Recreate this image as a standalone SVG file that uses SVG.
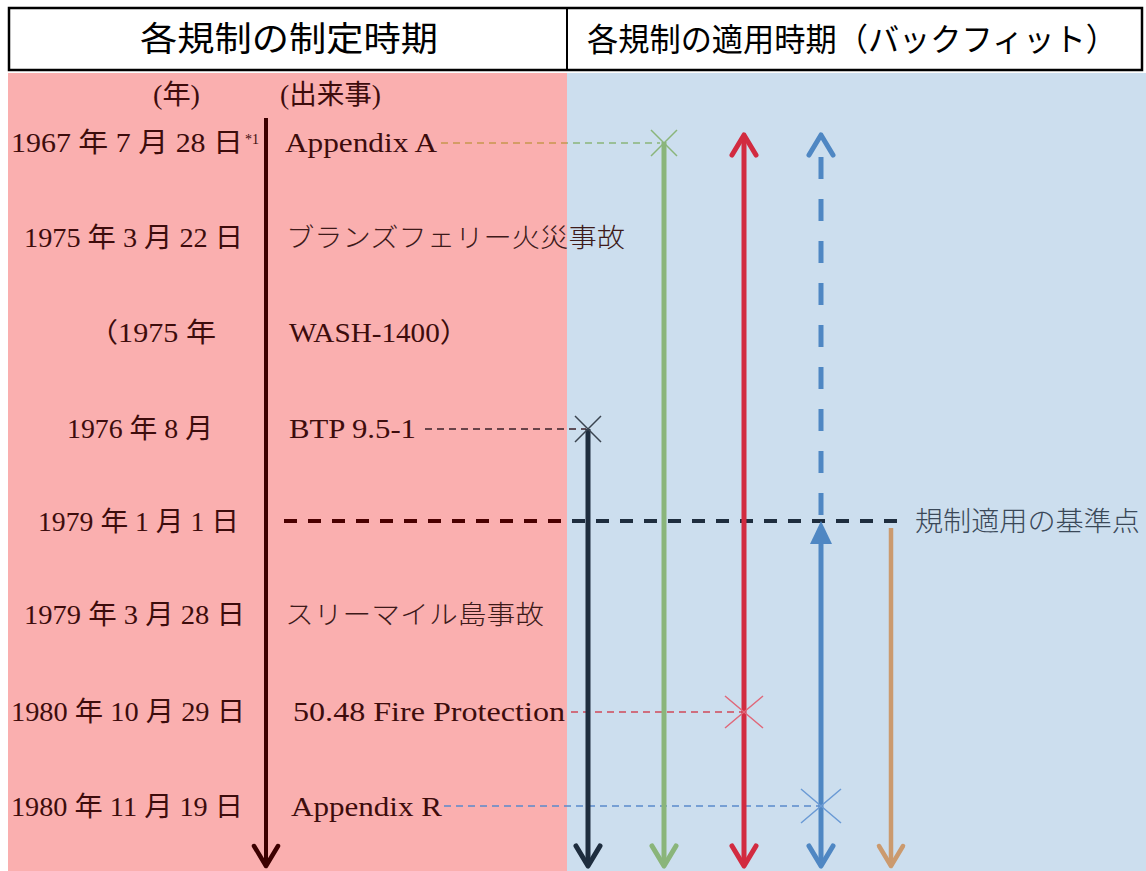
<svg xmlns="http://www.w3.org/2000/svg" width="1146" height="871" viewBox="0 0 1146 871">
<style>
.hdr{font-family:"Noto Sans CJK JP","Noto Sans",sans-serif;font-size:34px;fill:#000}
.hdr2{font-family:"Noto Sans CJK JP","Noto Sans",sans-serif;font-size:32px;fill:#000}
.mc{font-family:"Liberation Serif","Noto Sans CJK JP",serif;font-size:27px;fill:#3d0c0c}
.jp{font-family:"Noto Sans CJK JP",sans-serif;font-size:26px;fill:#3d1a1a;font-weight:300}
.sup{font-family:"Liberation Serif",serif;font-size:14px;fill:#3d0c0c}
.note{font-family:"Noto Sans CJK JP",sans-serif;font-size:27px;fill:#3a4858;font-weight:300}
.thin{fill:none;stroke-width:1.5;stroke-dasharray:7 5}
.xm{fill:none;stroke-width:1.5}
.shaft{fill:none;stroke-width:5}
</style>
<defs>
<linearGradient id="gBase" gradientUnits="userSpaceOnUse" x1="284" y1="0" x2="907" y2="0">
<stop offset="0.4543" stop-color="#4a0000"/><stop offset="0.4543" stop-color="#1e2d3e"/>
</linearGradient>
<linearGradient id="gA" gradientUnits="userSpaceOnUse" x1="441" y1="0" x2="660" y2="0">
<stop offset="0.575" stop-color="#c8964e"/><stop offset="0.575" stop-color="#8ab57a"/>
</linearGradient>
<marker id="mMaroon" markerUnits="userSpaceOnUse" viewBox="-26 -18 32 36" markerWidth="32" markerHeight="36" refX="0" refY="0" orient="auto-start-reverse"><path d="M-20,-12 L0,0 L-20,12" fill="none" stroke="#3c0000" stroke-width="4.5" stroke-linecap="round" stroke-linejoin="round"/></marker>
<marker id="mNavy" markerUnits="userSpaceOnUse" viewBox="-26 -18 32 36" markerWidth="32" markerHeight="36" refX="0" refY="0" orient="auto-start-reverse"><path d="M-20,-12 L0,0 L-20,12" fill="none" stroke="#1e2d3e" stroke-width="5" stroke-linecap="round" stroke-linejoin="round"/></marker>
<marker id="mGreen" markerUnits="userSpaceOnUse" viewBox="-26 -18 32 36" markerWidth="32" markerHeight="36" refX="0" refY="0" orient="auto-start-reverse"><path d="M-20,-12 L0,0 L-20,12" fill="none" stroke="#8ab57a" stroke-width="5" stroke-linecap="round" stroke-linejoin="round"/></marker>
<marker id="mRed" markerUnits="userSpaceOnUse" viewBox="-26 -18 32 36" markerWidth="32" markerHeight="36" refX="0" refY="0" orient="auto-start-reverse"><path d="M-20,-12 L0,0 L-20,12" fill="none" stroke="#d22b40" stroke-width="5" stroke-linecap="round" stroke-linejoin="round"/></marker>
<marker id="mBlue" markerUnits="userSpaceOnUse" viewBox="-26 -18 32 36" markerWidth="32" markerHeight="36" refX="0" refY="0" orient="auto-start-reverse"><path d="M-20,-12 L0,0 L-20,12" fill="none" stroke="#4f87c3" stroke-width="5" stroke-linecap="round" stroke-linejoin="round"/></marker>
<marker id="mOrange" markerUnits="userSpaceOnUse" viewBox="-26 -18 32 36" markerWidth="32" markerHeight="36" refX="0" refY="0" orient="auto-start-reverse"><path d="M-20,-12 L0,0 L-20,12" fill="none" stroke="#cb9a6e" stroke-width="4.5" stroke-linecap="round" stroke-linejoin="round"/></marker>
</defs>

<rect x="0" y="0" width="1146" height="871" fill="#ffffff"/>
<rect id="bg-left" x="8" y="73" width="559" height="798" fill="#faafaf"/>
<rect id="bg-right" x="567" y="73" width="579" height="798" fill="#ccdeee"/>

<g id="header">
<rect x="9" y="8" width="1133" height="62" fill="#ffffff" stroke="#000" stroke-width="2.5"/>
<line x1="567" y1="8" x2="567" y2="70" stroke="#000" stroke-width="2"/>
<text class="hdr" x="140" y="51" textLength="298" lengthAdjust="spacingAndGlyphs">各規制の制定時期</text>
<text class="hdr2" x="587" y="51" textLength="530" lengthAdjust="spacingAndGlyphs">各規制の適用時期（バックフィット）</text>
</g>

<g id="col-headers">
<text class="mc" x="153" y="104" textLength="47" lengthAdjust="spacingAndGlyphs">(年)</text>
<text class="mc" x="280" y="104" textLength="101" lengthAdjust="spacingAndGlyphs">(出来事)</text>
</g>

<g id="connectors">
<line id="timeline" x1="266" y1="118" x2="266" y2="866" stroke="#3c0000" stroke-width="4" marker-end="url(#mMaroon)"/>
<line id="baseline-1979" x1="284" y1="521" x2="907" y2="521" stroke="url(#gBase)" stroke-width="4" stroke-dasharray="13 11"/>
<line x1="441" y1="143" x2="660" y2="143" class="thin" stroke="url(#gA)"/>
<line x1="425" y1="429" x2="586" y2="429" class="thin" stroke="#3a2028"/>
<line x1="571" y1="712" x2="742" y2="712" class="thin" stroke="#d04a5a"/>
<line x1="444" y1="806" x2="819" y2="806" class="thin" stroke="#5a8acb"/>

<line x1="588" y1="429" x2="588" y2="866" class="shaft" stroke="#1e2d3e" marker-end="url(#mNavy)"/>
<line x1="664" y1="142" x2="664" y2="866" class="shaft" stroke="#8ab57a" marker-end="url(#mGreen)"/>
<line x1="744" y1="135" x2="744" y2="866" class="shaft" stroke="#d22b40" marker-start="url(#mRed)" marker-end="url(#mRed)"/>
<line x1="821" y1="157" x2="821" y2="521" class="shaft" stroke="#4f87c3" stroke-dasharray="22 20"/>
<path d="M809,155 L821,135 L833,155" fill="none" stroke="#4f87c3" stroke-width="5" stroke-linecap="round" stroke-linejoin="round"/>
<line x1="821" y1="540" x2="821" y2="866" class="shaft" stroke="#4f87c3" marker-end="url(#mBlue)"/>
<polygon points="821,521 810,544 832,544" fill="#4f87c3"/>
<line x1="891" y1="528" x2="891" y2="866" stroke="#cb9a6e" stroke-width="4.5" marker-end="url(#mOrange)"/>

<path class="xm" stroke="#8ab57a" d="M651,130 L677,156 M677,130 L651,156"/>
<path class="xm" stroke="#3a4450" d="M575,416 L601,442 M601,416 L575,442"/>
<path class="xm" stroke="#e0687a" d="M725,696 L763,728 M763,696 L725,728"/>
<path class="xm" stroke="#6a9ad5" d="M801,789 L841,823 M841,789 L801,823"/>
</g>

<g id="row-1967">
<text class="mc" x="11" y="152" textLength="232" lengthAdjust="spacingAndGlyphs">1967 年 7 月 28 日</text>
<text class="sup" x="245" y="144">*1</text>
<text class="mc" x="285" y="152" textLength="152" lengthAdjust="spacingAndGlyphs">Appendix A</text>
</g>
<g id="row-1975">
<text class="mc" x="24" y="247" textLength="219" lengthAdjust="spacingAndGlyphs">1975 年 3 月 22 日</text>
<text class="jp" x="286" y="247" textLength="339" lengthAdjust="spacingAndGlyphs">ブランズフェリー火災事故</text>
</g>
<g id="row-wash">
<text class="mc" x="88" y="342" textLength="128" lengthAdjust="spacingAndGlyphs">（1975 年</text>
<text class="mc" x="289" y="342" textLength="180" lengthAdjust="spacingAndGlyphs">WASH-1400）</text>
</g>
<g id="row-1976">
<text class="mc" x="67" y="438" textLength="146" lengthAdjust="spacingAndGlyphs">1976 年 8 月</text>
<text class="mc" x="289" y="438" textLength="127" lengthAdjust="spacingAndGlyphs">BTP 9.5-1</text>
</g>
<g id="row-1979-1">
<text class="mc" x="38" y="531" textLength="201" lengthAdjust="spacingAndGlyphs">1979 年 1 月 1 日</text>
<text class="note" x="915" y="531" textLength="225" lengthAdjust="spacingAndGlyphs">規制適用の基準点</text>
</g>
<g id="row-1979-3">
<text class="mc" x="24" y="624" textLength="221" lengthAdjust="spacingAndGlyphs">1979 年 3 月 28 日</text>
<text class="jp" x="285" y="624" textLength="259" lengthAdjust="spacingAndGlyphs">スリーマイル島事故</text>
</g>
<g id="row-1980-10">
<text class="mc" x="11" y="721" textLength="234" lengthAdjust="spacingAndGlyphs">1980 年 10 月 29 日</text>
<text class="mc" x="293" y="721" textLength="272" lengthAdjust="spacingAndGlyphs">50.48 Fire Protection</text>
</g>
<g id="row-1980-11">
<text class="mc" x="11" y="816" textLength="232" lengthAdjust="spacingAndGlyphs">1980 年 11 月 19 日</text>
<text class="mc" x="291" y="816" textLength="151" lengthAdjust="spacingAndGlyphs">Appendix R</text>
</g>
</svg>
